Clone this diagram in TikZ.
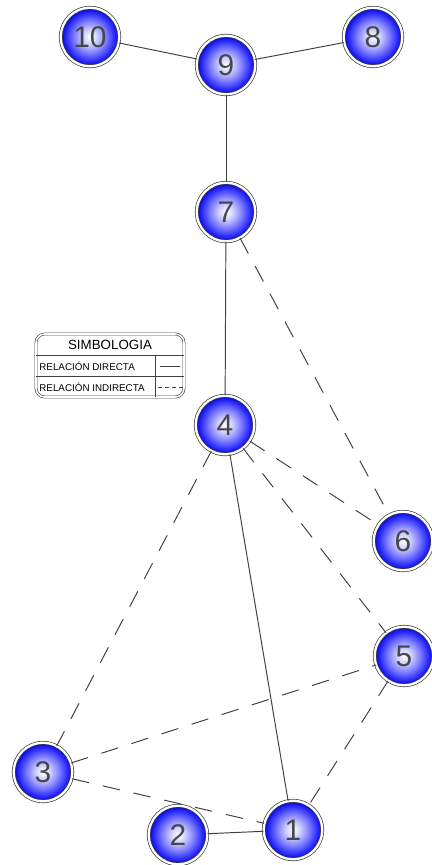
\documentclass[tikz,border=0pt]{standalone}
\usepackage{fontspec}
\setmainfont{Liberation Sans}
\usepackage{tikz}
\usetikzlibrary{positioning, calc}

\pgfdeclareradialshading{esfera}{\pgfpoint{0bp}{0bp}}{%
  color(0bp)=(white); color(6bp)=(blue!18!white); color(14bp)=(blue!52!white);
  color(20bp)=(blue!80!white); color(25bp)=(blue!85!black); color(50bp)=(blue!85!black)}

\tikzset{
  nodo/.style={circle, draw=black!75, line width=0.4pt, double=white, double distance=1.3pt,
    shading=esfera, minimum size=1.17cm, inner sep=0pt, text=black!72,
    font=\fontsize{17}{18}\selectfont},
  directa/.style={draw=black!75, line width=0.55pt},
  indirecta/.style={draw=black!75, line width=0.55pt, dash pattern=on 10pt off 8pt},
  leyenda/.style={inner sep=0pt, text=black, font=\fontsize{5.6}{6}\selectfont}
}

\begin{document}
\begin{tikzpicture}[x=0.02cm, y=-0.02cm]
  \useasboundingbox[fill=white] (0,0) rectangle (432,865);

  \node[nodo] (n10) at (90,37) {10};
  \node[nodo] (n9) at (226,65) {9};
  \node[nodo] (n8) at (373,37) {8};
  \node[nodo] (n7) at (226,212) {7};
  \node[nodo] (n4) at (225,425) {4};
  \node[nodo] (n6) at (403,541) {6};
  \node[nodo] (n5) at (404,656) {5};
  \node[nodo] (n3) at (43,772) {3};
  \node[nodo] (n2) at (178,835) {2};
  \node[nodo] (n1) at (293,830) {1};

  \draw[directa] (n10) -- (n9);
  \draw[directa] (n9) -- (n8);
  \draw[directa] (n9) -- (n7);
  \draw[directa] (n7) -- (n4);
  \draw[directa] (n4) -- (n1);
  \draw[directa] (n2) -- (n1);

  \draw[indirecta] (n7) -- (n6);
  \draw[indirecta] (n4) -- (n6);
  \draw[indirecta] (n4) -- (n5);
  \draw[indirecta] (n4) -- (n3);
  \draw[indirecta] (n3) -- (n5);
  \draw[indirecta] (n3) -- (n1);
  \draw[indirecta] (n5) -- (n1);

  \draw[draw=black!75, line width=0.35pt, double=white, double distance=0.9pt, rounded corners=5pt]
    (36,334) rectangle (184,397);
  \draw[draw=black!75, line width=0.5pt] (36,355) -- (184,355);
  \draw[draw=black!75, line width=0.5pt] (36,376) -- (184,376);
  \draw[draw=black!75, line width=0.5pt] (155,355) -- (155,397);
  \node[leyenda, font=\fontsize{7.6}{8}\selectfont] (titulo) at (110,345) {SIMBOLOGIA};
  \node[leyenda, anchor=west] (dir) at (39,366) {RELACIÓN DIRECTA};
  \node[leyenda, anchor=west] (ind) at (39,387) {RELACIÓN INDIRECTA};
  \draw[draw=black!75, line width=0.5pt] (160,366) -- (180,366);
  \draw[draw=black!75, line width=0.5pt, dash pattern=on 2.2pt off 1.8pt] (158,387) -- (183,387);
\end{tikzpicture}
\end{document}
